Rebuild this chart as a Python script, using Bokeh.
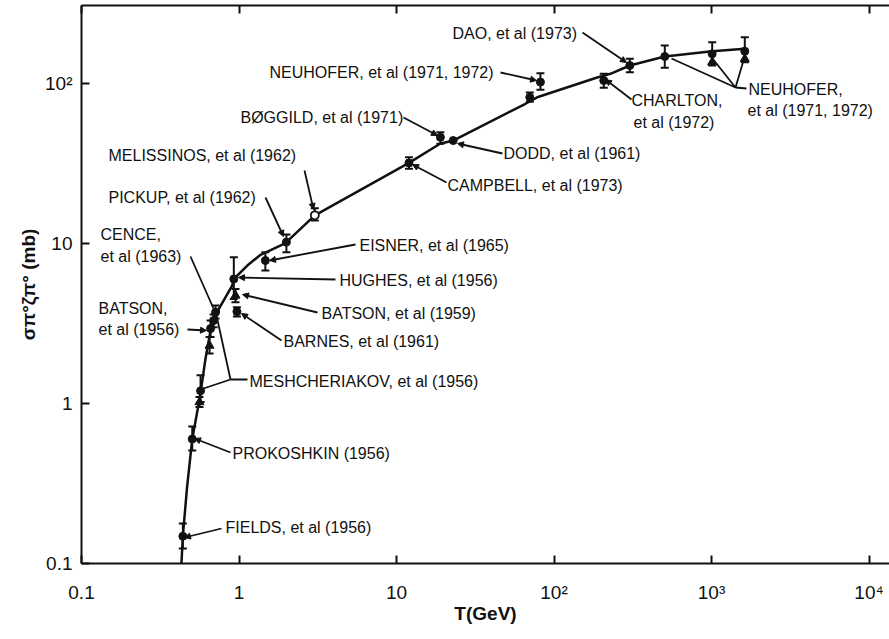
from bokeh.plotting import figure
from bokeh.models import (ColumnDataSource, Whisker, TeeHead, Arrow, NormalHead,
                          LogAxis, FixedTicker, Range1d)
from bokeh.core.properties import value
from bokeh.embed import file_html
from bokeh.resources import INLINE

# ---------------- data ----------------
# hand-drawn smooth curve through the measurements
curve_T = [0.431, 0.44, 0.468, 0.505, 0.565, 0.613, 0.66, 0.745, 0.905, 0.927,
           1.15, 1.37, 1.93, 2.0, 3.03, 12.0, 18.9, 22.9, 65.9, 78.2, 188, 228, 303,
           505, 1010, 1627]
curve_S = [0.10, 0.148, 0.30, 0.60, 1.10, 1.91, 2.87, 3.9, 5.46, 6.0,
           7.4, 8.5, 9.95, 10.2, 15.0, 31.9, 42.0, 44.0, 74.7, 82.0, 109, 115, 129.6,
           147.5, 159, 165]

# measurements: T (GeV), sigma*xi (mb), error low, error high (None = no bar)
pt_T = [0.44, 0.505, 0.561, 0.57, 0.65, 0.66, 0.69, 0.71, 0.927, 0.95, 0.97,
        1.47, 2.0, 3.03, 12.0, 19.0, 22.9, 70.2, 82.0, 207, 303, 505, 1010,
        1010, 1627, 1627]
pt_S = [0.148, 0.60, 1.02, 1.20, 2.30, 2.94, 3.30, 3.72, 6.0, 4.73, 3.75,
        7.83, 10.2, 15.0, 31.9, 46.1, 44.0, 82.0, 102, 104.4, 129.6, 147.5, 153.3,
        136, 159.2, 142.6]
pt_lo = [0.124, 0.508, 0.95, 1.02, 2.05, 2.6, 3.0, 3.4, 4.5, 4.3, 3.5,
         6.78, 8.82, 13.9, 29.3, 42.0, None, 77, 91.4, 94, 117.6, 125.4, 129.6,
         None, 135.9, None]
pt_hi = [0.178, 0.718, 1.10, 1.50, 2.60, 3.3, 3.6, 4.1, 8.2, 5.2, 4.0,
         8.82, 11.4, 16.6, 34.6, 49.6, None, 88, 116, 115, 142.6, 172.8, 181,
         None, 194.7, None]
pt_kind = ["dot", "dot", "tri", "dot", "tri", "dot", "dot", "dot", "dot", "tri", "dot",
           "dot", "dot", "open", "dot", "dot", "dot", "dot", "dot", "dot", "dot", "dot", "dot",
           "tri", "dot", "tri"]

x_ticks = [0.1, 1, 10, 100, 1000, 10000]
x_tick_labels = ["0.1", "1", "10", "10²", "10³", "10⁴"]
y_ticks = [0.1, 1, 10, 100]
y_tick_labels = ["0.1", "1", "10", "10²"]

# ---------------- layout helpers (annotation placement only) ----------------
FRAME_L, FRAME_B, FRAME_R, FRAME_T = 81, 563, 889, 5
DEC_X, DEC_Y = 157.5, 160.0


def dx(px):
    return 10 ** ((px - FRAME_L) / DEC_X - 1)


def dy(py):
    return 10 ** ((FRAME_B - py) / DEC_Y - 1)


labels = [
    ("DAO, et al (1973)", 452, 33),
    ("NEUHOFER, et al (1971, 1972)", 269, 72),
    ("BØGGILD, et al (1971)", 240, 117),
    ("MELISSINOS, et al (1962)", 108, 155),
    ("PICKUP, et al (1962)", 108, 197),
    ("CENCE,", 100, 234),
    ("et al (1963)", 100, 256),
    ("EISNER, et al (1965)", 359, 245),
    ("HUGHES, et al (1956)", 339, 280),
    ("BATSON,", 98, 308),
    ("et al (1956)", 98, 329),
    ("BATSON, et al (1959)", 321, 313),
    ("BARNES, et al (1961)", 283, 341),
    ("MESHCHERIAKOV, et al (1956)", 249, 381),
    ("PROKOSHKIN (1956)", 232, 453),
    ("FIELDS, et al (1956)", 225, 527),
    ("DODD, et al (1961)", 503, 153),
    ("CAMPBELL, et al (1973)", 447, 185),
    ("CHARLTON,", 631, 100),
    ("et al (1972)", 633, 122),
    ("NEUHOFER,", 748, 89),
    ("et al (1971, 1972)", 747, 110),
]

leaders = [
    (582, 32, 626, 62, True),
    (500, 72, 536, 80, True),
    (403, 117, 437, 135, True),
    (304, 170, 313, 209, True),
    (265, 197, 283, 236, True),
    (190, 256, 213, 308, False),
    (355, 244, 269, 260, True),
    (335, 279, 238, 277, True),
    (187, 329, 206, 330, True),
    (317, 312, 242, 294, True),
    (281, 340, 241, 313, True),
    (247, 379, 230, 379, False),
    (230, 379, 216, 315, False),
    (230, 379, 203, 388, False),
    (230, 452, 194, 438, True),
    (221, 528, 184, 537, True),
    (502, 153, 457, 143, True),
    (446, 182, 412, 164, True),
    (631, 99, 605, 79, True),
    (746, 88, 735, 87, False),
    (735, 87, 671, 58, False),
    (735, 87, 712, 58, False),
    (735, 87, 743, 60, False),
]

FONT = "Liberation Sans"
INK = "#111111"

p = figure(frame_width=FRAME_R - FRAME_L, frame_height=FRAME_B - FRAME_T,
           x_axis_type="log", y_axis_type="log",
           x_range=Range1d(0.1, dx(FRAME_R)), y_range=Range1d(0.1, dy(FRAME_T)),
           output_backend="svg", toolbar_location=None,
           min_border_left=FRAME_L, min_border_right=0, min_border_top=FRAME_T,
           min_border_bottom=60)
p.outline_line_color = None
p.grid.visible = False
p.background_fill_color = "white"
p.border_fill_color = "white"

# axes
for ax, ticks, labs in ((p.xaxis[0], x_ticks, x_tick_labels), (p.yaxis[0], y_ticks, y_tick_labels)):
    ax.ticker = FixedTicker(ticks=ticks)
    ax.major_label_overrides = {t: l for t, l in zip(ticks, labs)}
    ax.minor_tick_line_color = None
    ax.major_tick_in = 8
    ax.major_tick_out = 0
    ax.major_tick_line_width = 2
    ax.major_tick_line_color = INK
    ax.axis_line_width = 2
    ax.axis_line_color = INK
    ax.major_label_text_font = FONT
    ax.major_label_text_font_size = "19px"
    ax.major_label_text_color = INK
    ax.axis_label_text_font = FONT
    ax.axis_label_text_font_size = "19px"
    ax.axis_label_text_font_style = "bold"
    ax.axis_label_text_color = INK

p.xaxis.axis_label = "T(GeV)"
p.xaxis.major_label_standoff = 18
p.xaxis.axis_label_standoff = -3
p.yaxis.axis_label = "σπ°ζπ° (mb)"
p.yaxis.major_label_standoff = 9
p.yaxis.axis_label_standoff = 3

top = LogAxis(ticker=FixedTicker(ticks=x_ticks), major_label_text_font_size="0px",
              major_label_standoff=0, major_tick_in=8, major_tick_out=0,
              major_tick_line_width=2, major_tick_line_color=INK,
              minor_tick_line_color=None, axis_line_width=2, axis_line_color=INK)
top.major_label_overrides = {t: "" for t in x_ticks}
p.add_layout(top, "above")

# curve
p.line(curve_T, curve_S, line_width=2.5, line_color=INK)

# error bars
eb = [(t, lo, hi) for t, lo, hi in zip(pt_T, pt_lo, pt_hi) if lo is not None]
eb_src = ColumnDataSource(dict(x=[e[0] for e in eb], lo=[e[1] for e in eb], hi=[e[2] for e in eb]))
p.add_layout(Whisker(base="x", lower="lo", upper="hi", source=eb_src, dimension="height",
                     line_width=2, line_color=INK,
                     upper_head=TeeHead(size=8, line_width=2, line_color=INK),
                     lower_head=TeeHead(size=8, line_width=2, line_color=INK)))

# markers
def sel(kind):
    idx = [i for i, k in enumerate(pt_kind) if k == kind]
    return [pt_T[i] for i in idx], [pt_S[i] for i in idx]

tx, ty = sel("dot")
p.scatter(tx, ty, marker="circle", size=8, fill_color=INK, line_color=INK)
tx, ty = sel("tri")
p.scatter(tx, ty, marker="triangle", size=9, fill_color=INK, line_color=INK)
tx, ty = sel("open")
p.scatter(tx, ty, marker="circle", size=8, fill_color="white", line_color=INK, line_width=1.8)

# leader lines
for head in (True, False):
    rows = [l for l in leaders if l[4] == head]
    src = ColumnDataSource(dict(x0=[dx(r[0]) for r in rows], y0=[dy(r[1]) for r in rows],
                                x1=[dx(r[2]) for r in rows], y1=[dy(r[3]) for r in rows]))
    p.add_layout(Arrow(x_start="x0", y_start="y0", x_end="x1", y_end="y1", source=src,
                       line_width=1.8, line_color=INK,
                       end=NormalHead(size=6, fill_color=INK, line_color=INK, line_width=1) if head else None))

# texts
p.text(x=[dx(l[1]) for l in labels], y=[dy(l[2]) for l in labels], text=[l[0] for l in labels],
       text_font=value(FONT), text_font_size="16px", text_color=INK,
       text_align="left", text_baseline="middle")

open("out.html", "w").write(file_html(p, INLINE))
